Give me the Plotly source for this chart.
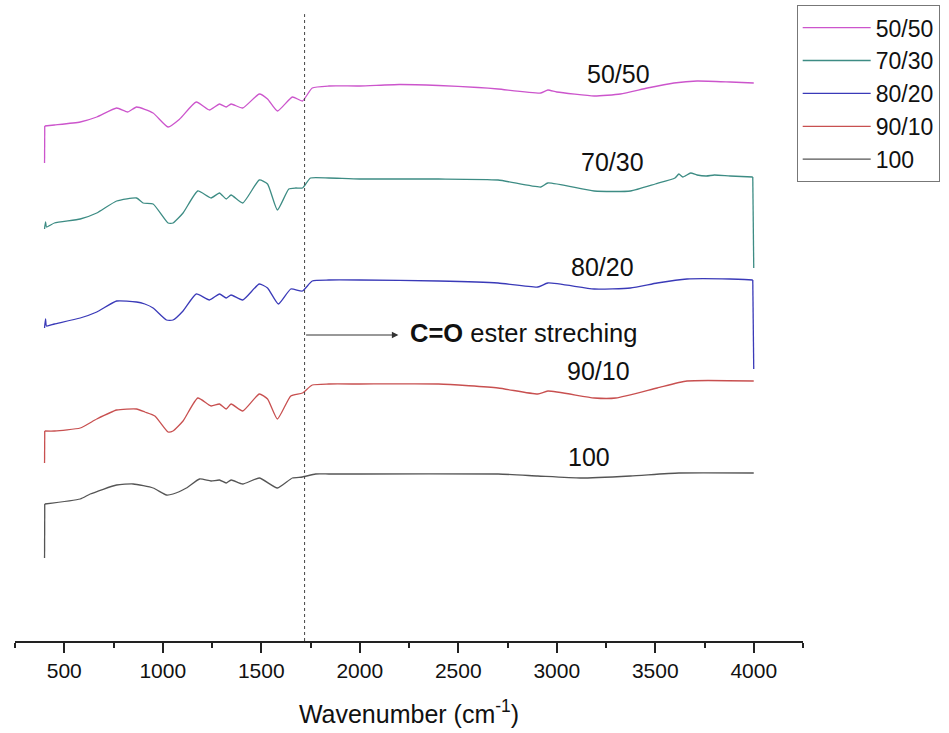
import plotly.graph_objects as go

# ---------------- data (arbitrary offset units) ----------------
wn_5050 = [400, 401, 450, 581, 665, 766, 823, 867, 951, 1027, 1086, 1170, 1237, 1288, 1322, 1347,
           1406, 1490, 1532, 1582, 1658, 1709, 1759, 1843, 2000, 2200, 2400, 2600, 2702, 2919, 2955,
           3000, 3190, 3323, 3460, 3595, 3712, 3880, 4000]
t_5050 = [478, 515, 516, 519, 524, 533, 529, 534, 528, 514, 522, 539, 531, 537, 534, 537,
          533, 547, 542, 530, 544, 540, 553, 555, 555, 556.5, 555.5, 553.5, 552, 548, 551,
          549, 545, 547, 553, 558, 560, 559, 558]

wn_7030 = [400, 405, 410, 450, 581, 665, 766, 867, 900, 951, 1027, 1052, 1103, 1178, 1245, 1288,
           1322, 1347, 1406, 1490, 1532, 1582, 1640, 1675, 1709, 1750, 1843, 2000, 2400, 2702,
           2919, 2955, 3190, 3374, 3500, 3600, 3620, 3640, 3680, 3712, 3760, 3800, 3880, 3995, 4000]
t_7030 = [412, 419, 414, 418, 422, 428, 440, 443, 438, 437, 418, 418, 428, 450, 443, 448,
          442, 446, 438, 461, 457, 431, 452, 453, 453, 463, 463, 462, 462, 461,
          454, 458, 450, 450, 457, 463, 467, 464, 468, 466, 465, 466, 465, 464, 373]

wn_8020 = [400, 405, 410, 450, 581, 665, 766, 867, 909, 951, 1019, 1052, 1103, 1170, 1237, 1288,
           1322, 1347, 1406, 1490, 1532, 1587, 1650, 1709, 1759, 1843, 2000, 2400, 2702, 2904,
           2955, 3190, 3374, 3510, 3661, 3879, 3995, 4000]
t_8020 = [313, 322, 315, 317, 323, 329, 340, 339, 337, 333, 321, 321, 330, 347, 341, 347,
          343, 346, 341, 357, 353, 337, 352, 350, 360, 361, 361, 360, 358, 354,
          358, 352, 353, 358, 362, 362, 361, 272]

wn_9010 = [400, 401, 450, 581, 665, 766, 867, 909, 960, 1027, 1052, 1103, 1178, 1245, 1288, 1322,
           1347, 1406, 1490, 1532, 1582, 1650, 1709, 1759, 1843, 2000, 2400, 2702, 2904, 2955,
           3190, 3300, 3510, 3661, 4000]
t_9010 = [178, 210, 210, 213, 222, 231, 232, 229, 225, 209, 210, 220, 243, 235, 237, 232,
          237, 230, 247, 242, 222, 245, 248, 256, 257, 257, 257, 253, 247, 250,
          243, 243, 253, 260, 260]

wn_100 = [400, 401, 581, 632, 766, 850, 951, 1019, 1052, 1120, 1187, 1245, 1288, 1322, 1347, 1406,
          1490, 1582, 1658, 1709, 1776, 1843, 2000, 2702, 2904, 3120, 3374, 3620, 4000]
t_100 = [83, 137, 142, 147, 156, 157, 153, 146, 147, 153, 162, 160, 161, 158, 161, 157,
         163, 153, 163, 164, 167, 167, 167, 167, 165, 163, 165, 168, 168]

series_names = ["50/50", "70/30", "80/20", "90/10", "100"]
series_colors = ["#cc55cc", "#3d8c84", "#3a3ab8", "#c85050", "#555555"]
series_wn = [wn_5050, wn_7030, wn_8020, wn_9010, wn_100]
series_t = [t_5050, t_7030, t_8020, t_9010, t_100]

label_x = [3311, 3281, 3230, 3212, 3166]
label_y = [567, 479, 374, 270, 184]

tick_vals = [500, 1000, 1500, 2000, 2500, 3000, 3500, 4000]
carbonyl_wn = 1720
arrow_tip_wn = 2196
arrow_level = 306

# ---------------- figure ----------------
FONT = "Liberation Sans, Arial, sans-serif"


def steep(xs, ys, i, j):
    return abs(xs[j] - xs[i]) <= 5 and abs(ys[j] - ys[i]) > 20


fig = go.Figure()
for i, (name, col, xs, ys) in enumerate(zip(series_names, series_colors, series_wn, series_t)):
    s = 1 if steep(xs, ys, 0, 1) else 0
    e = len(xs) - 1 if steep(xs, ys, len(xs) - 2, len(xs) - 1) else len(xs)
    fig.add_trace(go.Scatter(x=xs[s:e], y=ys[s:e], mode="lines", name=name,
                             line=dict(color=col, width=1.3, shape="spline", smoothing=0.5),
                             legendgroup=f"g{i}"))
    # sharp vertical edges of the recorded spectra (drawn straight)
    if s == 1:
        fig.add_trace(go.Scatter(x=xs[:2], y=ys[:2], mode="lines", showlegend=False,
                                 line=dict(color=col, width=1.3), legendgroup=f"g{i}",
                                 hoverinfo="skip"))
    if e == len(xs) - 1:
        fig.add_trace(go.Scatter(x=xs[-2:], y=ys[-2:], mode="lines", showlegend=False,
                                 line=dict(color=col, width=1.3), legendgroup=f"g{i}",
                                 hoverinfo="skip"))

for name, lx, ly in zip(series_names, label_x, label_y):
    fig.add_annotation(x=lx, y=ly, text=name, showarrow=False,
                       font=dict(family=FONT, size=25, color="#111111"))

# dotted reference line at C=O
fig.add_shape(type="line", x0=carbonyl_wn, x1=carbonyl_wn, y0=0, y1=0.978,
              xref="x", yref="paper", line=dict(color="#444444", width=1, dash="dot"))

# arrow + label
fig.add_annotation(x=arrow_tip_wn, y=arrow_level, ax=carbonyl_wn, ay=arrow_level,
                   xref="x", yref="y", axref="x", ayref="y", text="", showarrow=True,
                   arrowhead=2, arrowsize=1.3, arrowwidth=1, arrowcolor="#333333")
fig.add_annotation(x=arrow_tip_wn + 50, y=arrow_level + 2, xanchor="left", showarrow=False,
                   text="<b>C=O</b> ester streching",
                   font=dict(family=FONT, size=25.5, color="#111111"))

fig.update_layout(
    width=949, height=733,
    margin=dict(l=15, r=146, t=0, b=92),
    paper_bgcolor="white", plot_bgcolor="white",
    font=dict(family=FONT, color="#111111"),
    showlegend=True,
    legend=dict(x=0.992, y=0.992, xanchor="left", yanchor="top",
                bordercolor="#777777", borderwidth=1, bgcolor="white",
                font=dict(family=FONT, size=23, color="#111111"),
                traceorder="normal", tracegroupgap=5, itemwidth=68),
    xaxis=dict(range=[250, 4250], showgrid=False, zeroline=False,
               showline=True, linecolor="#222222", linewidth=2,
               ticks="outside", ticklen=10, tickwidth=2, tickcolor="#222222",
               tickvals=tick_vals, tickfont=dict(family=FONT, size=21, color="#111111"),
               minor=dict(tickvals=[250 + 500 * k for k in range(9)], ticks="outside",
                          ticklen=5, tickwidth=2, tickcolor="#222222"),
               title=dict(text="Wavenumber (cm<sup>-1</sup>)",
                          font=dict(family=FONT, size=25, color="#111111"), standoff=24)),
    yaxis=dict(range=[0, 641], visible=False),
)

fig.write_html("out.html")
